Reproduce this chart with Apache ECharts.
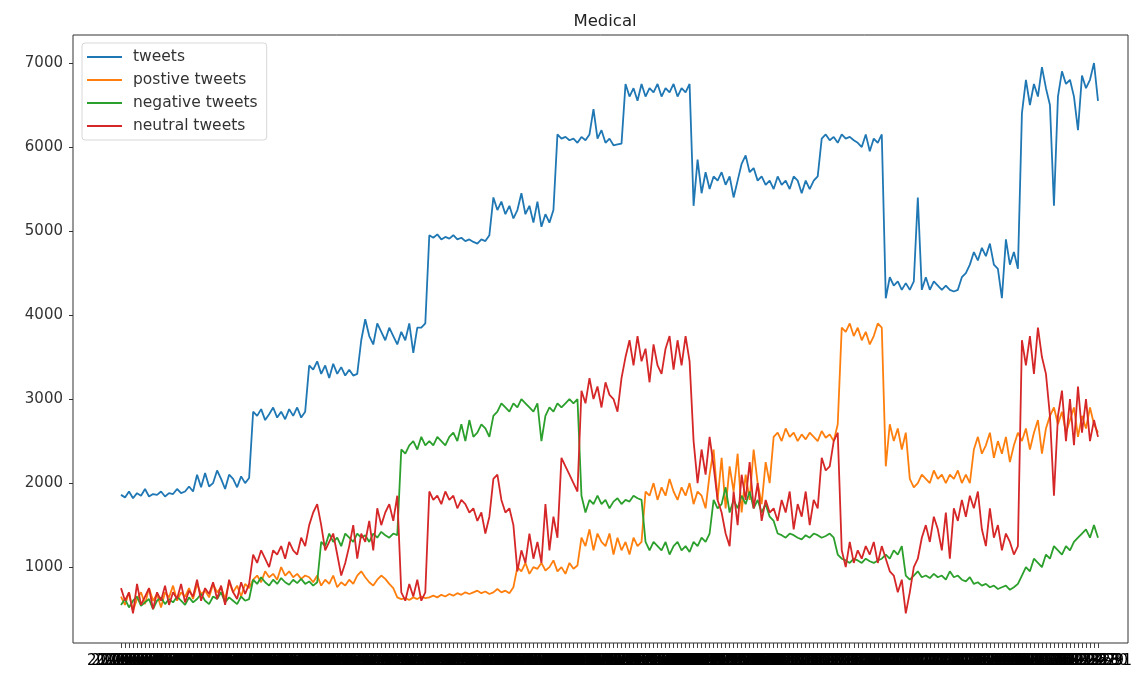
<!DOCTYPE html>
<html>
<head>
<meta charset="utf-8">
<title>Medical</title>
<script src="https://cdn.jsdelivr.net/npm/echarts@6/dist/echarts.min.js"></script>
<style>
  html, body { margin: 0; padding: 0; background: #ffffff; }
  #chart { width: 1144px; height: 677px; }
</style>
</head>
<body>
<div id="chart"></div>
<script>
// Daily tweet counts for the "Medical" topic
const tweets = [
  1860, 1830, 1900, 1820, 1880, 1850, 1930, 1840, 1870, 1860, 1900, 1840, 1880, 1870, 1930, 1880, 1900, 1960, 1900, 2100, 1950, 2120, 1960, 2000, 2150, 2050, 1930, 2100, 2050, 1950, 2080, 2000, 2060,
  2850, 2800, 2880, 2750, 2820, 2900, 2780, 2850, 2760, 2880, 2800, 2900, 2780, 2850,
  3400, 3350, 3450, 3300, 3400, 3250, 3420, 3300, 3380, 3280, 3350, 3280, 3300,
  3700, 3950, 3750, 3650, 3900, 3800, 3700, 3850, 3750, 3650, 3800, 3700, 3900, 3550, 3850, 3850, 3900,
  4950, 4920, 4960, 4900, 4930, 4910, 4950, 4900, 4920, 4880, 4900, 4870, 4850, 4900, 4880, 4950,
  5400, 5250, 5350, 5200, 5300, 5150, 5250, 5450, 5200, 5300, 5100, 5350, 5050, 5200, 5100, 5250,
  6150, 6100, 6120, 6080, 6100, 6050, 6120, 6080, 6150, 6450, 6100, 6200, 6050, 6100, 6020, 6030, 6040,
  6750, 6600, 6700, 6550, 6750, 6600, 6700, 6650, 6750, 6600, 6700, 6650, 6750, 6600, 6700, 6650, 6750,
  5300, 5850, 5450, 5700, 5500, 5650, 5600, 5700, 5550, 5650, 5400, 5600, 5800, 5900, 5700, 5750, 5600, 5650, 5550, 5600, 5500, 5650, 5550, 5600, 5500, 5650, 5600, 5450, 5600, 5500, 5600, 5650,
  6100, 6150, 6080, 6120, 6050, 6150, 6100, 6120, 6080, 6050, 6000, 6150, 5950, 6100, 6050, 6150,
  4200, 4450, 4350, 4400, 4300, 4380, 4300, 4400, 5400, 4300, 4450, 4300, 4400, 4350, 4300, 4350, 4300, 4280, 4300, 4450, 4500, 4600,
  4750, 4650, 4800, 4700, 4850, 4600, 4550, 4200, 4900, 4600, 4750, 4550,
  6400, 6800, 6500, 6750, 6600, 6950, 6700, 6500, 5300, 6600, 6900, 6750, 6800, 6600, 6200, 6850, 6700, 6800, 7000, 6550
];

const positiveTweets = [
  650, 550, 700, 480, 620, 700, 560, 750, 600, 680, 520, 700, 640, 780, 600, 700, 650, 750, 620, 800, 680, 720, 640, 800, 700, 760, 620, 820, 700, 780, 650, 800, 750,
  850, 900, 820, 950, 880, 920, 850, 1000, 900, 950, 880, 920, 860, 900,
  880, 820, 900, 780, 850, 800, 900, 760, 820, 780, 850, 800, 900, 950, 880, 820, 780, 850, 900, 860, 800, 750, 640,
  620, 630, 610, 640, 620, 650, 630, 640, 660, 640, 670, 650, 680, 660, 690, 670, 700, 680, 700, 720, 690, 710, 680, 700, 740, 700, 720, 690, 760,
  1000, 950, 1050, 920, 1000, 980, 1050, 960, 1000, 1080, 950, 1000, 920, 1050, 980, 1020,
  1350, 1250, 1450, 1200, 1400, 1300, 1250, 1400, 1150, 1350, 1200, 1300, 1150, 1350, 1250, 1300,
  1900, 1850, 2000, 1800, 1950, 1850, 2050, 1900, 1800, 1950, 1850, 2000, 1750, 1900, 1850, 1700,
  2100, 2400, 1800, 2300, 1700, 2200, 1900, 2350, 1650, 2100, 1800, 2400, 2000, 1750, 2250, 2000,
  2550, 2600, 2500, 2650, 2550, 2600, 2500, 2580, 2520, 2600, 2550, 2500, 2620, 2540, 2580, 2500, 2700,
  3850, 3800, 3900, 3750, 3850, 3700, 3800, 3650, 3750, 3900, 3850,
  2200, 2700, 2500, 2650, 2400, 2600,
  2050, 1950, 2000, 2100, 2050, 2000, 2150, 2050, 2100, 2000, 2100, 2050, 2150, 2000, 2100, 2000,
  2400, 2550, 2350, 2450, 2600, 2300, 2500, 2350, 2550, 2250, 2450, 2600,
  2500, 2650, 2400, 2600, 2750, 2350, 2650, 2800, 2900, 2700, 2850, 2600, 2750, 2900, 2550, 2800, 2650, 2900, 2700, 2600
];

const negativeTweets = [
  550, 620, 520, 600, 650, 540, 580, 620, 500, 600, 640, 560, 620, 580, 650, 600, 550, 640, 580, 620, 680, 600, 560, 650, 620, 700, 580, 640, 600, 560, 650, 600, 620,
  850, 800, 880, 820, 780, 850, 800, 870, 820, 790, 850, 810, 860, 800, 830, 780, 820,
  1300, 1250, 1400, 1300, 1350, 1250, 1400, 1350, 1300, 1400, 1350, 1380, 1300, 1400, 1350, 1420, 1380, 1350, 1400, 1380,
  2400, 2350, 2450, 2500, 2400, 2550, 2450, 2500, 2450, 2550, 2500, 2450, 2550, 2600, 2500, 2700, 2500, 2750, 2550, 2600, 2700, 2650, 2550,
  2800, 2850, 2950, 2900, 2850, 2950, 2900, 3000, 2950, 2900, 2850, 2950, 2500, 2800, 2900, 2850, 2950, 2900, 2950, 3000, 2950, 3000,
  1850, 1650, 1800, 1750, 1850, 1750, 1800, 1700, 1780, 1820, 1750, 1800, 1780, 1850, 1820, 1800,
  1300, 1200, 1300, 1250, 1200, 1300, 1150, 1250, 1300, 1200, 1250, 1180, 1300, 1250, 1350, 1300, 1400,
  1800, 1700, 1750, 1950, 1650, 1800, 1700, 1850, 1750, 1900, 1700, 1800, 1650, 1750, 1600, 1550,
  1400, 1380, 1350, 1400, 1380, 1350, 1330, 1380, 1350, 1400, 1380, 1350, 1370, 1400, 1350,
  1150, 1100, 1080, 1050, 1100, 1080, 1050, 1100, 1070, 1050, 1080, 1100, 1150, 1100, 1200, 1150, 1250,
  900, 850, 900, 950, 880, 900, 870, 920, 880, 900, 850, 950, 880, 900, 850, 830, 880, 800, 820, 780, 800, 760, 780, 740, 760, 780, 730, 760, 800,
  900, 1000, 950, 1100, 1050, 1000, 1150, 1100, 1250, 1200, 1150, 1250, 1200, 1300, 1350, 1400, 1450, 1350, 1500, 1350
];

const neutralTweets = [
  750, 600, 700, 450, 800, 550, 650, 750, 500, 700, 600, 780, 550, 700, 620, 800, 580, 720, 650, 850, 600, 750, 680, 820, 620, 780, 550, 850, 700, 620, 820, 680, 800,
  1150, 1050, 1200, 1100, 1000, 1200, 1150, 1250, 1100, 1300, 1200, 1150, 1350, 1250,
  1500, 1650, 1750, 1500, 1200, 1300, 1400, 1150, 900, 1050,
  1250, 1500, 1100, 1400, 1300, 1550, 1200, 1700, 1500, 1650, 1750, 1550, 1850,
  700, 600, 800, 650, 850, 600, 700,
  1900, 1800, 1850, 1750, 1900, 1800, 1850, 1700, 1800, 1750, 1650, 1700, 1550, 1650, 1400, 1600, 2050, 2100, 1800, 1650, 1700, 1500,
  950, 1200, 1050, 1400, 1100, 1300, 1050, 1750, 1200, 1600, 1350,
  2300, 2200, 2100, 2000, 1900,
  3100, 2950, 3250, 3000, 3150, 2900, 3200, 3050, 3000, 2850, 3250,
  3500, 3700, 3400, 3750, 3450, 3600, 3200, 3650, 3400, 3300, 3600, 3750, 3350, 3700, 3400, 3750, 3450,
  2500, 2000, 2400, 2100, 2550, 2200, 1800, 1650, 1400, 1250, 1900, 1500, 2100, 1800, 2250, 1700, 2000, 1550, 1800, 1650,
  1700, 1550, 1800, 1650, 1900, 1450, 1750, 1600, 1900, 1500, 1800, 1700, 2300, 2150, 2200, 2500,
  2600, 1200, 1000, 1300, 1050, 1200, 1100, 1250, 1150, 1300, 1050, 1250,
  1100, 950, 900, 700, 850, 450, 700, 1000,
  1100, 1350, 1500, 1300, 1600, 1450, 1200, 1650, 1100, 1700, 1550, 1800, 1600, 1850, 1700, 1900, 1450, 1250, 1700, 1350, 1500, 1200, 1400, 1300, 1150, 1250,
  3700, 3400, 3750, 3300, 3850, 3500, 3300, 2800, 1850, 2800, 3100, 2500, 3000, 2450, 3150, 2600, 3000, 2500, 2750, 2550
];

// One category per day, labelled yy-mm-dd
const startDate = '2020-05-01';
const dates = [];
(function () {
  const d = new Date(startDate + 'T00:00:00Z');
  for (let i = 0; i < tweets.length; i++) {
    dates.push(d.toISOString().slice(2, 10));
    d.setUTCDate(d.getUTCDate() + 1);
  }
})();

const yTicks = [1000, 2000, 3000, 4000, 5000, 6000, 7000];
const seriesNames = ['tweets', 'postive tweets', 'negative tweets', 'neutral tweets'];
const seriesColors = ['#1f77b4', '#ff7f0e', '#2ca02c', '#d62728'];
const seriesData = [tweets, positiveTweets, negativeTweets, neutralTweets];

const FONT = 'DejaVu Sans';
const chart = echarts.init(document.getElementById('chart'), null, { renderer: 'canvas' });

const option = {
  animation: false,
  backgroundColor: '#ffffff',
  title: {
    text: 'Medical',
    left: 600,
    textAlign: 'center',
    top: 8,
    textStyle: { fontFamily: FONT, fontSize: 16.5, fontWeight: 'normal', color: '#222' }
  },
  legend: {
    left: 82,
    top: 43,
    orient: 'vertical',
    data: seriesNames,
    icon: 'rect',
    itemWidth: 35,
    itemHeight: 2,
    itemGap: 5,
    padding: [5, 9, 5, 5],
    backgroundColor: 'rgba(255,255,255,0.85)',
    borderColor: '#d8d8d8',
    borderWidth: 1,
    borderRadius: 3,
    textStyle: { fontFamily: FONT, fontSize: 15.5, color: '#333', lineHeight: 18, padding: [0, 0, 0, 6] }
  },
  grid: [
    // plotting area holding the lines
    { left: 121, right: 46, top: 35, bottom: 34, containLabel: false },
    // surrounding frame with the axes margins
    { left: 73, right: 16, top: 35, bottom: 34, show: true, borderColor: '#333', borderWidth: 1, backgroundColor: 'transparent' }
  ],
  xAxis: [
    {
      type: 'category',
      gridIndex: 0,
      data: dates,
      boundaryGap: false,
      axisLine: { show: false },
      axisTick: { show: true, interval: 0, length: 5, lineStyle: { color: '#444', width: 1 } },
      axisLabel: { interval: 0, fontFamily: FONT, fontSize: 15, color: '#000', margin: 11, hideOverlap: false },
      splitLine: { show: false }
    },
    { type: 'value', gridIndex: 1, show: false, min: 0, max: 1 }
  ],
  yAxis: [
    {
      type: 'value',
      gridIndex: 0,
      min: 97,
      max: 7333,
      offset: 48,
      axisLine: { show: false },
      axisTick: { show: true, length: 4, customValues: yTicks, lineStyle: { color: '#333' } },
      axisLabel: {
        customValues: yTicks,
        formatter: (v) => String(v),
        fontFamily: FONT,
        fontSize: 15,
        color: '#333',
        margin: 10
      },
      splitLine: { show: false }
    },
    { type: 'value', gridIndex: 1, show: false, min: 0, max: 1 }
  ],
  series: seriesNames.map((name, k) => ({
    name: name,
    type: 'line',
    xAxisIndex: 0,
    yAxisIndex: 0,
    data: seriesData[k],
    symbol: 'none',
    showSymbol: false,
    color: seriesColors[k],
    lineStyle: { width: 1.8, color: seriesColors[k] },
    emphasis: { disabled: true }
  }))
};

chart.setOption(option);
</script>
</body>
</html>
